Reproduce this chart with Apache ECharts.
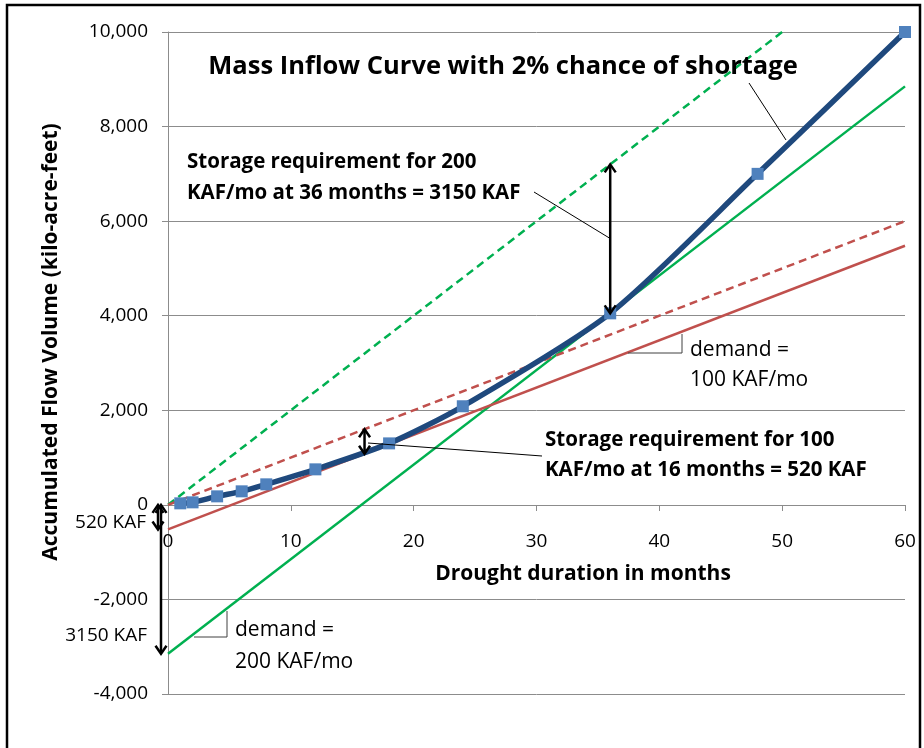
<!DOCTYPE html>
<html>
<head>
<meta charset="utf-8">
<script src="https://cdn.jsdelivr.net/npm/echarts@6/dist/echarts.min.js"></script>
<style>
  html, body { margin: 0; padding: 0; background: #ffffff; }
  #chart { width: 924px; height: 748px; }
</style>
</head>
<body>
<div id="chart"></div>
<script>
// Mass inflow curve (accumulated flow, KAF) at each drought duration (months)
const months = [1, 2, 4, 6, 8, 12, 18, 24, 36, 48, 60];
const inflow = [32, 53, 180, 286, 434, 751, 1300, 2085, 4050, 7000, 10000];

// Demand lines: 100 KAF/mo and 200 KAF/mo, plus the same lines shifted down by the storage
const demandMonths = [0, 60];
const demand100 = [0, 6000];
const demand100Shifted = [-520, 5480];
const demand200Months = [0, 50];
const demand200 = [0, 10000];
const demand200Shifted = [-3150, 8850];

// Storage requirement arrows: month, upper value, lower value
const storageMonths = [36, 16, 0, 0];
const storageTop = [7200, 1600, 0, 0];
const storageBottom = [4050, 1080, -520, -3150];

// Axis ranges
const xMin = 0, xMax = 60, xStep = 10;
const yMin = -4000, yMax = 10000, yStep = 2000;

const FONT = '"Open Sans", sans-serif';
const GRID_COLOR = '#8c8c8c';
const GRID = { left: 168, right: 19, top: 32, bottom: 54 };
const PLOT_HEIGHT = 748 - GRID.top - GRID.bottom;

function pairs(xs, ys) { return xs.map((x, i) => [x, ys[i]]); }

const chart = echarts.init(document.getElementById('chart'), null, { renderer: 'canvas' });

// pixel shift for the arrows drawn just left of the vertical axis
const arrowShift = [0, 0, -10, -7];

function arrowHead(x, y, dir) {
  // open chevron head; dir = -1 points up, +1 points down
  return {
    type: 'polyline',
    shape: { points: [[x - 5.5, y - dir * 8], [x, y], [x + 5.5, y - dir * 8]] },
    style: { stroke: '#000', lineWidth: 2.5, fill: null }
  };
}

const option = {
  animation: false,
  backgroundColor: '#ffffff',
  grid: GRID,
  xAxis: {
    type: 'value',
    min: xMin, max: xMax, interval: xStep,
    // horizontal axis crosses the vertical one at zero
    offset: -Math.round(PLOT_HEIGHT * (0 - yMin) / (yMax - yMin)),
    axisLine: { onZero: false, lineStyle: { color: GRID_COLOR, width: 1 } },
    axisTick: { show: true, length: 6, lineStyle: { color: GRID_COLOR } },
    axisLabel: { fontFamily: FONT, fontSize: 19, color: '#000', margin: 27 },
    splitLine: { show: false }
  },
  yAxis: {
    type: 'value',
    min: yMin, max: yMax, interval: yStep,
    axisLine: { show: true, onZero: false, lineStyle: { color: GRID_COLOR, width: 1 } },
    axisTick: { show: true, length: 6, lineStyle: { color: GRID_COLOR } },
    axisLabel: {
      fontFamily: FONT, fontSize: 19, color: '#000', margin: 20,
      formatter: v => v.toLocaleString('en-US')
    },
    splitLine: { show: true, lineStyle: { color: GRID_COLOR, width: 1 } }
  },
  series: [
    {
      name: 'demand 200 (shifted)', type: 'line', data: pairs(demandMonths, demand200Shifted),
      symbol: 'none', lineStyle: { color: '#00B050', width: 2.5 }, z: 2
    },
    {
      name: 'demand 100 (shifted)', type: 'line', data: pairs(demandMonths, demand100Shifted),
      symbol: 'none', lineStyle: { color: '#C0504D', width: 2.5 }, z: 2
    },
    {
      name: 'demand 200', type: 'line', data: pairs(demand200Months, demand200),
      symbol: 'none', lineStyle: { color: '#00B050', width: 2.5, type: [8, 5] }, z: 2
    },
    {
      name: 'demand 100', type: 'line', data: pairs(demandMonths, demand100),
      symbol: 'none', lineStyle: { color: '#C0504D', width: 2.5, type: [8, 5] }, z: 2
    },
    {
      name: 'Mass inflow', type: 'line', data: pairs(months, inflow),
      smooth: 0.25,
      symbol: 'rect', symbolSize: 12,
      itemStyle: { color: '#4F81BD' },
      lineStyle: { color: '#1F497D', width: 5.5 },
      z: 3
    },
    {
      name: 'storage', type: 'custom', z: 4, clip: false,
      data: storageMonths.map((m, i) => [m, storageTop[i], storageBottom[i]]),
      renderItem: (params, api) => {
        const top = api.coord([api.value(0), api.value(1)]);
        const bot = api.coord([api.value(0), api.value(2)]);
        const x = top[0] + arrowShift[params.dataIndex];
        return {
          type: 'group',
          children: [
            { type: 'line', shape: { x1: x, y1: top[1] + 1, x2: x, y2: bot[1] - 1 },
              style: { stroke: '#000', lineWidth: 2.5 } },
            arrowHead(x, top[1], -1),
            arrowHead(x, bot[1], 1)
          ]
        };
      }
    }
  ],
  graphic: [
    // outer frame
    { type: 'rect', shape: { x: 7, y: 5, width: 913, height: 760 },
      style: { fill: null, stroke: '#000', lineWidth: 2.5 }, z: 100 },
    // title
    { type: 'text', x: 503, y: 67, z: 100,
      style: { text: 'Mass Inflow Curve with 2% chance of shortage', fontFamily: FONT, fontWeight: 'bold',
        fontSize: 25.5, fill: '#000', align: 'center', verticalAlign: 'middle' } },
    // axis titles
    { type: 'text', x: 583, y: 574, z: 100,
      style: { text: 'Drought duration in months', fontFamily: FONT, fontWeight: 'bold',
        fontSize: 21, fill: '#000', align: 'center', verticalAlign: 'middle' } },
    { type: 'text', x: 51, y: 342, rotation: Math.PI / 2, z: 100,
      style: { text: 'Accumulated Flow Volume (kilo-acre-feet)', fontFamily: FONT, fontWeight: 'bold',
        fontSize: 21, fill: '#000', align: 'center', verticalAlign: 'middle' } },
    // storage annotations
    { type: 'text', x: 187, y: 178, z: 100,
      style: { text: 'Storage requirement for 200\nKAF/mo at 36 months = 3150 KAF', fontFamily: FONT,
        fontWeight: 'bold', fontSize: 20.5, lineHeight: 31, fill: '#000', align: 'left', verticalAlign: 'middle' } },
    { type: 'text', x: 545, y: 455, z: 100,
      style: { text: 'Storage requirement for 100\nKAF/mo at 16 months = 520 KAF', fontFamily: FONT,
        fontWeight: 'bold', fontSize: 20.5, lineHeight: 30, fill: '#000', align: 'left', verticalAlign: 'middle' } },
    // demand labels
    { type: 'text', x: 690, y: 365, z: 100,
      style: { text: 'demand =\n100 KAF/mo', fontFamily: FONT, fontSize: 21, lineHeight: 30,
        fill: '#000', align: 'left', verticalAlign: 'middle' } },
    { type: 'text', x: 235, y: 646, z: 100,
      style: { text: 'demand =\n200 KAF/mo', fontFamily: FONT, fontSize: 21, lineHeight: 32,
        fill: '#000', align: 'left', verticalAlign: 'middle' } },
    // storage amounts beside the vertical axis
    { type: 'text', x: 146, y: 523, z: 100,
      style: { text: '520 KAF', fontFamily: FONT, fontSize: 19, fill: '#000', align: 'right', verticalAlign: 'middle' } },
    { type: 'text', x: 147, y: 636, z: 100,
      style: { text: '3150 KAF', fontFamily: FONT, fontSize: 19, fill: '#000', align: 'right', verticalAlign: 'middle' } },
    // leader lines
    { type: 'line', z: 100, shape: { x1: 534, y1: 192, x2: 611, y2: 239 }, style: { stroke: '#000', lineWidth: 1 } },
    { type: 'line', z: 100, shape: { x1: 368, y1: 443, x2: 542, y2: 456 }, style: { stroke: '#000', lineWidth: 1 } },
    { type: 'line', z: 100, shape: { x1: 749, y1: 83, x2: 786, y2: 140 }, style: { stroke: '#000', lineWidth: 1 } },
    // slope brackets
    { type: 'polyline', z: 100, shape: { points: [[628, 353], [682, 353], [682, 334]] },
      style: { stroke: '#404040', lineWidth: 1, fill: null } },
    { type: 'polyline', z: 100, shape: { points: [[194, 637], [227, 637], [227, 611]] },
      style: { stroke: '#404040', lineWidth: 1, fill: null } }
  ]
};

chart.setOption(option);
</script>
</body>
</html>
